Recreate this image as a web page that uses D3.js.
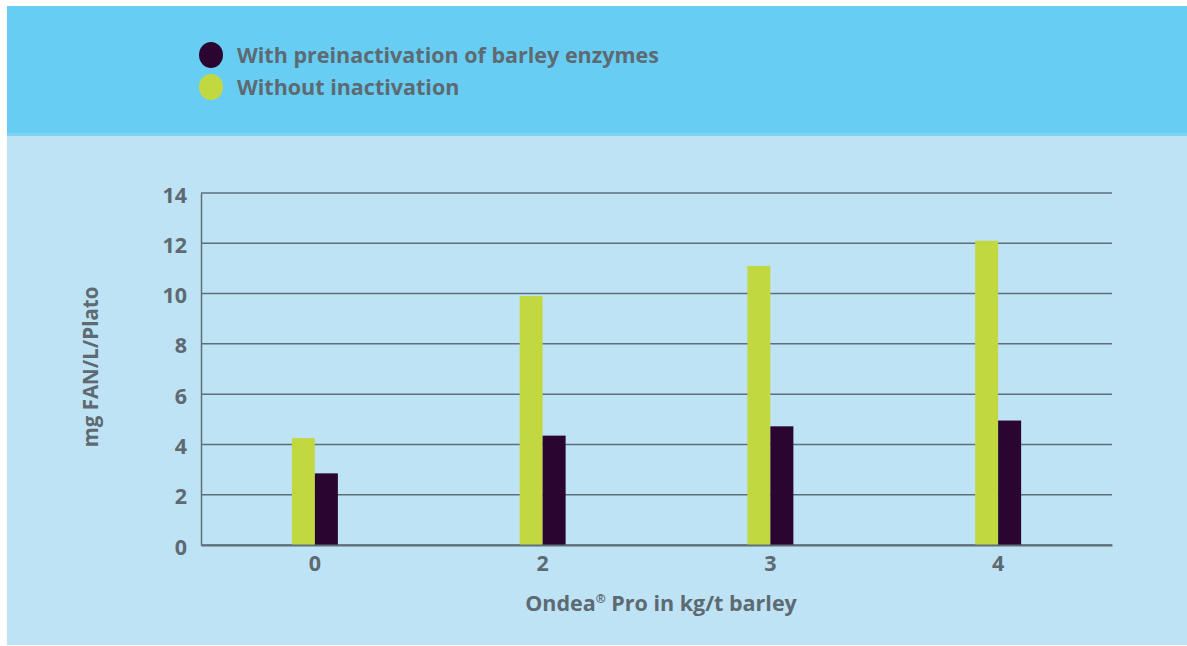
<!DOCTYPE html>
<html>
<head>
    <meta charset="utf-8">
    <title>FAN chart</title>
    <script src="https://d3js.org/d3.v7.min.js"></script>
    <style>
        html, body { margin: 0; padding: 0; background: #fff; }
        svg { display: block; font-family: "Open Sans", sans-serif; font-weight: 700; }
        .axis text { fill: #5d6a72; font-family: "Open Sans", sans-serif; font-size: 21.5px; font-weight: 700; }
    </style>
</head>
<body>
<svg id="chart" width="1187" height="646"></svg>
<script>
    // data
    var categories = ["0", "2", "3", "4"];
    var seriesNames = ["Without inactivation", "With preinactivation of barley enzymes"];
    var withoutInact = [4.25, 9.9, 11.1, 12.1];
    var withPreinact = [2.85, 4.35, 4.72, 4.95];
    var yTicks = [0, 2, 4, 6, 8, 10, 12, 14];
    var colors = ["#c2d840", "#2a0530"];

    var svg = d3.select("#chart");
    var W = 1187, H = 646;
    var margin = {left: 201, right: 75, top: 193, bottom: 101};
    var textColor = "#5d6a72", lineColor = "#5f6f78";

    // backgrounds
    svg.append("rect").attr("x", 7).attr("y", 6).attr("width", W - 7).attr("height", 639).attr("fill", "#bde3f5");
    svg.append("rect").attr("x", 7).attr("y", 6).attr("width", W - 7).attr("height", 130).attr("fill", "#68cdf3");
    svg.append("rect").attr("x", 7).attr("y", 133).attr("width", W - 7).attr("height", 3).attr("fill", "#7ed4f4");

    var x = d3.scaleBand().domain(categories).range([margin.left, W - margin.right]).padding(0);
    var y = d3.scaleLinear().domain([0, 14]).range([H - margin.bottom, margin.top]);
    var barW = 23;

    // gridlines
    var grid = svg.append("g").attr("class", "grid");
    grid.selectAll("line").data(yTicks).enter().append("line")
        .attr("x1", margin.left).attr("x2", W - margin.right)
        .attr("y1", function(d) { return y(d); }).attr("y2", function(d) { return y(d); })
        .attr("stroke", lineColor).attr("stroke-width", 1.5);

    // bars
    var groups = [withoutInact, withPreinact];
    groups.forEach(function(vals, si) {
        svg.append("g").selectAll("rect").data(vals).enter().append("rect")
            .attr("x", function(d, i) { return x(categories[i]) + x.bandwidth() / 2 - barW + si * barW; })
            .attr("y", function(d) { return y(d); })
            .attr("width", barW)
            .attr("height", function(d) { return y(0) - y(d); })
            .attr("fill", colors[si]);
    });

    // axes
    var yAxis = svg.append("g").attr("class", "axis")
        .attr("transform", "translate(" + margin.left + ",0)")
        .call(d3.axisLeft(y).tickValues(yTicks).tickSize(0).tickPadding(14));
    yAxis.select(".domain").attr("stroke", lineColor).attr("stroke-width", 1.5);
    yAxis.selectAll("text").attr("dy", "0.42em");

    var xAxis = svg.append("g").attr("class", "axis")
        .attr("transform", "translate(0," + y(0) + ")")
        .call(d3.axisBottom(x).tickSize(0).tickPadding(11));
    xAxis.select(".domain").attr("stroke", lineColor).attr("stroke-width", 2);

    // axis titles
    svg.append("text")
        .attr("transform", "translate(98,367) rotate(-90)")
        .attr("text-anchor", "middle")
        .attr("fill", textColor).attr("font-size", 20.5)
        .text("mg FAN/L/Plato");

    var xt = svg.append("text")
        .attr("x", 661).attr("y", 611)
        .attr("text-anchor", "middle")
        .attr("fill", textColor).attr("font-size", 21.5);
    xt.append("tspan").text("Ondea");
    xt.append("tspan").attr("font-size", 12).attr("dy", -8).text("®");
    xt.append("tspan").attr("dy", 8).text(" Pro in kg/t barley");

    // legend
    var legend = [
        {name: seriesNames[1], color: colors[1], y: 55},
        {name: seriesNames[0], color: colors[0], y: 87}
    ];
    var lg = svg.append("g").selectAll("g").data(legend).enter().append("g");
    lg.append("ellipse")
        .attr("cx", 211).attr("cy", function(d) { return d.y; })
        .attr("rx", 12).attr("ry", 13)
        .attr("fill", function(d) { return d.color; });
    lg.append("text")
        .attr("x", 237).attr("y", function(d) { return d.y + 8; })
        .attr("fill", textColor).attr("font-size", 21.5)
        .text(function(d) { return d.name; });
</script>
</body>
</html>
